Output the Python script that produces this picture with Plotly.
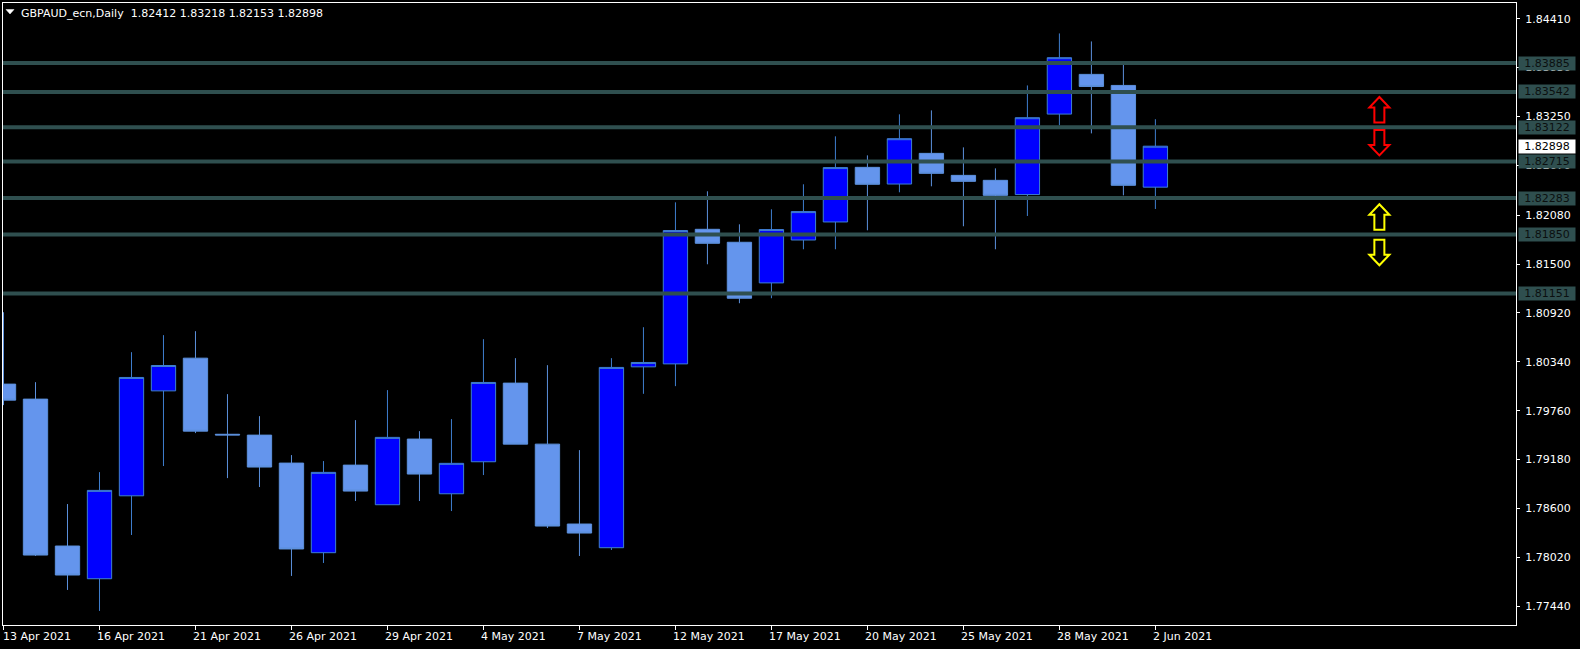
import plotly.graph_objects as go

# ---------- data ----------
date_ticks = ["13 Apr 2021", "16 Apr 2021", "21 Apr 2021", "26 Apr 2021", "29 Apr 2021", "4 May 2021",
              "7 May 2021", "12 May 2021", "17 May 2021", "20 May 2021", "25 May 2021", "28 May 2021", "2 Jun 2021"]
date_tick_idx = [0, 3, 6, 9, 12, 15, 18, 21, 24, 27, 30, 33, 36]

opens = [1.80075, 1.79897, 1.78154, 1.77766, 1.78750, 1.79995, 1.80383, 1.79480, 1.79470, 1.79138,
         1.78075, 1.79114, 1.78644, 1.79423, 1.78774, 1.79154, 1.80087, 1.79363, 1.78415, 1.78134,
         1.80280, 1.80315, 1.81912, 1.81758, 1.81276, 1.81785, 1.81999, 1.82647, 1.82449, 1.82813,
         1.82552, 1.82493, 1.82324, 1.83279, 1.83750, 1.83619, 1.82412]
highs = [1.80928, 1.80098, 1.78652, 1.79031, 1.80454, 1.80656, 1.80703, 1.79956, 1.79695, 1.79233,
         1.79162, 1.79648, 1.80004, 1.79517, 1.79660, 1.80608, 1.80383, 1.80300, 1.79292, 1.80383,
         1.80750, 1.82232, 1.82363, 1.81971, 1.82149, 1.82446, 1.83015, 1.82789, 1.83276, 1.83323,
         1.82884, 1.82635, 1.83619, 1.84236, 1.84141, 1.83892, 1.83218]
lows = [1.79826, 1.78036, 1.77633, 1.77384, 1.78285, 1.79103, 1.79494, 1.78960, 1.78854, 1.77799,
        1.77953, 1.78688, 1.78644, 1.78688, 1.78569, 1.78996, 1.79363, 1.78368, 1.78036, 1.78107,
        1.79960, 1.80051, 1.81497, 1.81035, 1.81094, 1.81675, 1.81675, 1.81900, 1.82351, 1.82422,
        1.81948, 1.81675, 1.82070, 1.83145, 1.83050, 1.82315, 1.82153]
closes = [1.79885, 1.78047, 1.77810, 1.78814, 1.80154, 1.80296, 1.79517, 1.79472, 1.79091, 1.78119,
          1.79028, 1.78806, 1.79443, 1.79008, 1.79135, 1.80095, 1.79363, 1.78391, 1.78308, 1.80273,
          1.80332, 1.81897, 1.81746, 1.81094, 1.81909, 1.82122, 1.82644, 1.82446, 1.82987, 1.82576,
          1.82481, 1.82315, 1.83236, 1.83948, 1.83607, 1.82434, 1.82898]

level_values = [1.83885, 1.83542, 1.83122, 1.82715, 1.82283, 1.81850, 1.81151]
last_price = 1.82898
price_ticks = [1.84410, 1.83830, 1.83250, 1.82670, 1.82080, 1.81500, 1.80920, 1.80340,
               1.79760, 1.79180, 1.78600, 1.78020, 1.77440]
arrow_idx = 43
arrow_up_tips = [1.83481, 1.82209]
arrow_down_tips = [1.82789, 1.81485]
arrow_colors = ["#FF0000", "#FFFF00"]
header = "GBPAUD_ecn,Daily  1.82412 1.83218 1.82153 1.82898"

# ---------- style ----------
FONT = "DejaVu Sans"
LEVEL = "#2F4F4F"
UP_PATH = "M 0 0 L 10 -10.5 L 5 -10.5 L 5 -25.5 L -5 -25.5 L -5 -10.5 L -10 -10.5 Z"
DOWN_PATH = "M 0 0 L 10 10.5 L 5 10.5 L 5 25.5 L -5 25.5 L -5 10.5 L -10 10.5 Z"

fig = go.Figure(go.Candlestick(
    x=list(range(len(opens))), open=opens, high=highs, low=lows, close=closes,
    increasing=dict(fillcolor="#0000FF", line=dict(color="#3F7FCF", width=1)),
    decreasing=dict(fillcolor="#6495ED", line=dict(color="#5C90DC", width=1)),
    whiskerwidth=0, hoverinfo="skip", showlegend=False,
))

shapes = []
annotations = []
for v in level_values:
    shapes.append(dict(type="line", xref="paper", x0=0, x1=1, yref="y", y0=v, y1=v,
                       line=dict(color=LEVEL, width=4), layer="above"))
    annotations.append(dict(xref="paper", x=1, xanchor="left", xshift=2, yref="y", y=v, yanchor="middle",
                            text=f"{v:.5f}", showarrow=False, width=56, height=13, bgcolor=LEVEL,
                            align="center", borderpad=0, font=dict(family=FONT, size=11, color="#0B0F0F")))
annotations.append(dict(xref="paper", x=1, xanchor="left", xshift=2, yref="y", y=last_price, yanchor="middle",
                        text=f"{last_price:.5f}", showarrow=False, width=56, height=13, bgcolor="#FFFFFF",
                        align="center", borderpad=0, font=dict(family=FONT, size=11, color="#000000")))

for tip, col in zip(arrow_up_tips, arrow_colors):
    shapes.append(dict(type="path", xsizemode="pixel", ysizemode="pixel", xref="x", yref="y",
                       xanchor=arrow_idx, yanchor=tip, path=UP_PATH, line=dict(color=col, width=2)))
for tip, col in zip(arrow_down_tips, arrow_colors):
    shapes.append(dict(type="path", xsizemode="pixel", ysizemode="pixel", xref="x", yref="y",
                       xanchor=arrow_idx, yanchor=tip, path=DOWN_PATH, line=dict(color=col, width=2)))

# header triangle
shapes.append(dict(type="path", xsizemode="pixel", ysizemode="pixel", xref="paper", yref="paper",
                   xanchor=0, yanchor=1, path="M 3 -6.5 L 11 -6.5 L 7 -11 Z",
                   fillcolor="#FFFFFF", line=dict(color="#FFFFFF", width=0.5)))
annotations.append(dict(xref="paper", yref="paper", x=0, y=1, xshift=16, yshift=-2, xanchor="left", yanchor="top",
                        text=header.replace("  ", "&nbsp;&nbsp;"), showarrow=False,
                        font=dict(family=FONT, size=11, color="#FFFFFF")))

for i, label in zip(date_tick_idx, date_ticks):
    annotations.append(dict(xref="x", x=i, xanchor="left", xshift=-4 if i else -3, yref="paper", y=0, yanchor="top", yshift=-3,
                            text=label, showarrow=False, font=dict(family=FONT, size=11, color="#FFFFFF")))

fig.update_layout(
    width=1580, height=649, autosize=False,
    margin=dict(l=3, r=64, t=3, b=24, pad=0),
    paper_bgcolor="#000000", plot_bgcolor="#000000",
    boxgap=0.24, boxgroupgap=0,
    shapes=shapes, annotations=annotations,
    xaxis=dict(range=[-0.0156, 47.27], showgrid=False, zeroline=False, rangeslider=dict(visible=False),
               showline=True, linecolor="#FFFFFF", linewidth=1, mirror=True,
               tickmode="array", tickvals=date_tick_idx, ticktext=[""] * len(date_tick_idx),
               ticks="outside", ticklen=4, tickcolor="#FFFFFF", tickwidth=1),
    yaxis=dict(range=[1.77217, 1.84597], side="right", showgrid=False, zeroline=False,
               showline=True, linecolor="#FFFFFF", linewidth=1, mirror=True,
               tickmode="array", tickvals=price_ticks, ticktext=[f"{v:.5f}" for v in price_ticks],
               ticks="outside", ticklen=3, tickcolor="#FFFFFF", tickwidth=1, ticklabelstandoff=3,
               tickfont=dict(family=FONT, size=11, color="#FFFFFF")),
)

fig.write_html("out.html", config={"displayModeBar": False},
               post_script="document.body.style.margin='0';document.body.style.overflow='hidden';")
